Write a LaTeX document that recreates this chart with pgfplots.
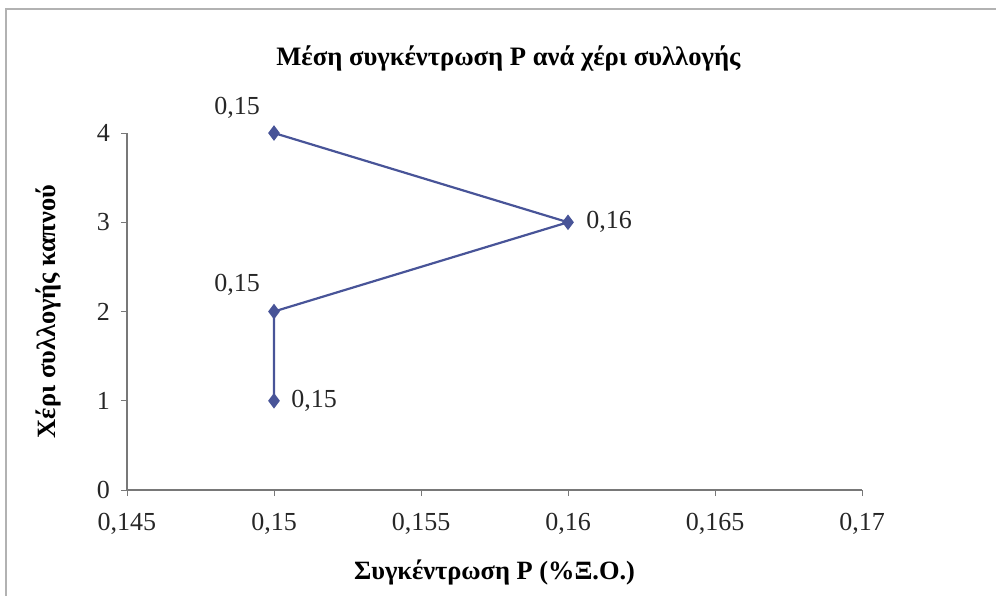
\documentclass[border=0pt]{standalone}
\usepackage{pgfplots}
\usepackage{pgfplotstable}
\pgfplotsset{compat=1.18}
\usepackage{fontspec}
\setmainfont{Liberation Serif}
\definecolor{serblue}{RGB}{72,84,152}
\definecolor{axgray}{RGB}{120,120,120}
\pgfplotstableread{
x y lab dx dy
0.15 4 {0,15} -18.5 12.5
0.16 3 {0,16} 20.5 0
0.15 2 {0,15} -18.5 13.5
0.15 1 {0,15} 20 0
}\datatable
\begin{document}
\begin{tikzpicture}
\path[use as bounding box] (0,0) rectangle (498pt,298pt);
\draw[gray!60, line width=0.8pt] (3pt,0pt) -- (3pt,293.5pt) -- (498pt,293.5pt);
\begin{axis}[
  at={(63.5pt,53pt)}, anchor=south west,
  scale only axis, width=367.5pt, height=178.5pt,
  xmin=0.145, xmax=0.17, ymin=0, ymax=4,
  xtick={0.145,0.15,0.155,0.16,0.165,0.17},
  ytick={0,1,2,3,4},
  scaled x ticks=false,
  axis x line=bottom, axis y line=left,
  axis line style={-, axgray, line width=0.6pt},
  tick style={axgray, line width=0.5pt},
  tick align=outside, major tick length=3pt,
  /pgf/number format/use comma,
  /pgf/number format/assume math mode=true,
  xticklabel style={/pgf/number format/precision=3, yshift=-5pt},
  yticklabel style={xshift=-2pt},
  tick label style={font=\fontsize{13}{15}\selectfont, text=black!85},
  title={\textbf{Μέση συγκέντρωση P ανά χέρι συλλογής}},
  title style={font=\fontsize{13.3}{16}\selectfont, at={(0.5,1)}, anchor=center, yshift=31.5pt, xshift=7pt},
  xlabel={\textbf{Συγκέντρωση P (\%Ξ.Ο.)}},
  ylabel={\textbf{Χέρι συλλογής καπνού}},
  label style={font=\fontsize{13.2}{16}\selectfont},
  xlabel style={at={(axis description cs:0.5,0)}, anchor=center, yshift=-41pt},
  ylabel style={at={(axis description cs:-0.107,0.5)}, anchor=center},
  clip=false,
]
\addplot[serblue, line width=1.1pt, mark=diamond*, mark size=3pt,
  mark options={fill=serblue, draw=serblue},
  point meta=explicit symbolic,
  visualization depends on={\thisrow{dx} \as \ldx},
  visualization depends on={\thisrow{dy} \as \ldy},
  nodes near coords,
  nodes near coords style={font=\fontsize{13}{15}\selectfont, text=black!85, anchor=center, xshift=\ldx pt, yshift=\ldy pt},
] table[x=x, y=y, meta=lab] {\datatable};
\end{axis}
\end{tikzpicture}
\end{document}
